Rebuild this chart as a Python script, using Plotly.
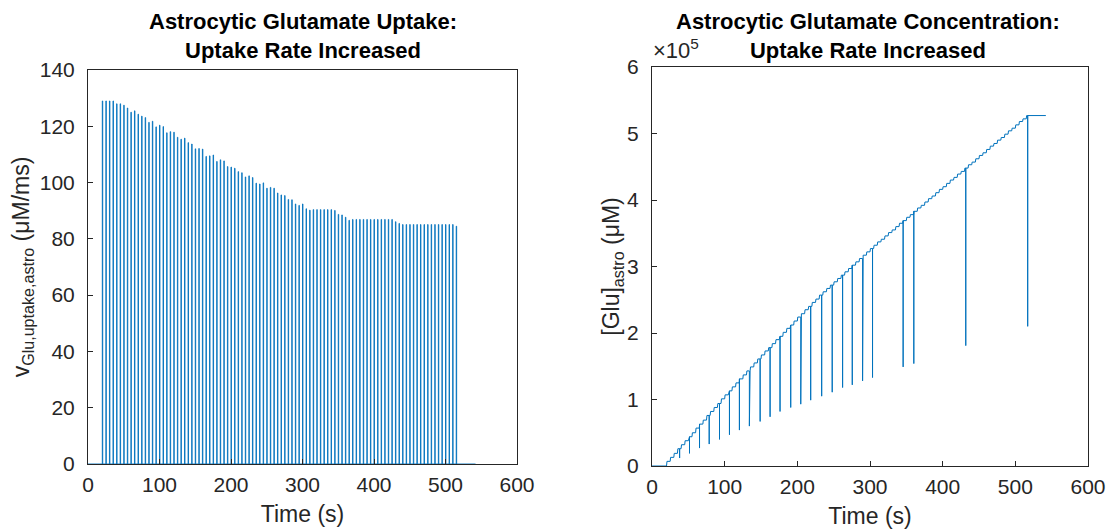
import plotly.graph_objects as go

# ---------------- data ----------------
spike_t = list(range(20, 520, 5))          # pulse onset times (s)
pulse_w = 0.6                              # pulse width (s)
t_end = 542                                # end of simulation (s)

uptake_peak = [
    129, 129, 129, 129,
    128, 128, 127.5, 126.5, 125, 125.5, 124.3, 123.6, 123.1, 121.4, 121.8,
    119.8, 120.4, 119.9, 117.7, 118.1, 117.9, 116.1, 115.4, 115.8, 114.2,
    113.7, 112.0, 112.1, 111.9, 109.3, 109.5, 109.8, 107.5, 108.1, 107.7,
    105.7, 105.5, 105.1, 103.9, 103.5, 102.0, 102.4, 101.8, 99.8, 99.5,
    99.9, 98.0, 98.3, 98.0, 96.3, 95.6, 95.4, 94.0, 93.9, 92.4, 91.9, 92.4,
    90.7, 90.2,
    90.4, 90.4, 90.4, 90.4, 90.4, 90.4,
    90.1, 88.7, 88.5, 87.7, 86.6,
    86.9, 86.9, 86.9, 86.9, 86.9, 86.9, 86.9, 86.9, 86.9, 86.9, 86.9, 86.9,
    86.1, 85.5,
    85.1, 85.1, 85.1, 85.1, 85.1, 85.1, 85.1, 85.1, 85.1, 85.1, 85.1, 85.1,
    85.1, 85.1, 85.1,
    84.5,
]

# astrocytic [Glu] after each pulse (units of 1e5 uM)
glu_level = [
    0.07, 0.13, 0.19, 0.26, 0.32, 0.38, 0.44, 0.50, 0.57, 0.63,
    0.69, 0.76, 0.82, 0.88, 0.94, 1.01, 1.07, 1.13, 1.19, 1.25,
    1.31, 1.37, 1.43, 1.49, 1.55, 1.61, 1.67, 1.73, 1.78, 1.84,
    1.90, 1.95, 2.01, 2.07, 2.12, 2.18, 2.24, 2.29, 2.35, 2.40,
    2.46, 2.51, 2.57, 2.62, 2.67, 2.72, 2.77, 2.82, 2.87, 2.92,
    2.97, 3.02, 3.07, 3.12, 3.17, 3.22, 3.27, 3.32, 3.37, 3.41,
    3.46, 3.51, 3.55, 3.60, 3.65, 3.69, 3.74, 3.78, 3.83, 3.88,
    3.92, 3.97, 4.02, 4.06, 4.11, 4.16, 4.20, 4.25, 4.30, 4.34,
    4.39, 4.43, 4.48, 4.53, 4.57, 4.62, 4.67, 4.71, 4.76, 4.81,
    4.85, 4.90, 4.94, 4.99, 5.04, 5.08, 5.13, 5.18, 5.22, 5.27,
]

dip_t = [38, 51.6, 65.4, 78.7, 92.9, 106.6, 120.3, 134, 148.8, 162.5,
         176.2, 190.9, 204.7, 218.4, 233.5, 248, 262.3, 275.6, 289.8, 303.5,
         345.6, 360.3, 431.8, 517]
dip_low = [0.12, 0.19, 0.27, 0.33, 0.40, 0.47, 0.54, 0.60, 0.67, 0.74,
           0.82, 0.88, 0.93, 0.99, 1.05, 1.11, 1.18, 1.22, 1.28, 1.33,
           1.49, 1.54, 1.81, 2.10]

x_ticks = [0, 100, 200, 300, 400, 500, 600]
left_yticks = [0, 20, 40, 60, 80, 100, 120, 140]
right_yticks = [0, 1, 2, 3, 4, 5, 6]
SCALE = 1e5

# ---------------- build traces ----------------
ux, uy = [0], [0]
for t, p in zip(spike_t, uptake_peak):
    ux += [t, t, t + pulse_w, t + pulse_w]
    uy += [0, p, p, 0]
ux.append(t_end)
uy.append(0)

events = [(t, 's', v) for t, v in zip(spike_t, glu_level)] + \
         [(t, 'd', v) for t, v in zip(dip_t, dip_low)]
events.sort(key=lambda e: e[0])
gx, gy = [0, spike_t[0]], [0, 0]
cur = 0
for t, kind, v in events:
    if kind == 's':
        gx += [t, t + pulse_w]
        gy += [cur * SCALE, v * SCALE]
        cur = v
    else:
        gx += [t, t, t]
        gy += [cur * SCALE, v * SCALE, cur * SCALE]
gx.append(t_end)
gy.append(cur * SCALE)

BLUE = '#0072BD'
AX = '#262626'
FONT = 'Liberation Sans, Arial, sans-serif'

fig = go.Figure()
fig.add_trace(go.Scatter(x=ux, y=uy, mode='lines', line=dict(color=BLUE, width=0.9),
                         xaxis='x', yaxis='y', showlegend=False, hoverinfo='skip'))
fig.add_trace(go.Scatter(x=gx, y=gy, mode='lines', line=dict(color=BLUE, width=1),
                         xaxis='x2', yaxis='y2', showlegend=False, hoverinfo='skip'))

W, H = 1117, 529
OFF = 8  # page body margin offset
def px_x(p):
    return (p - OFF) / W
def px_y(p):
    return 1 - (p - OFF) / H

axis_common = dict(showline=True, linecolor=AX, linewidth=1, mirror=True,
                   ticks='inside', ticklen=5, tickcolor=AX, showgrid=False,
                   zeroline=False, automargin=False,
                   tickfont=dict(family=FONT, size=21, color=AX))
TFONT = dict(size=23, family=FONT, color=AX)

fig.update_layout(
    width=W, height=H, margin=dict(l=0, r=0, t=0, b=0),
    paper_bgcolor='white', plot_bgcolor='white',
    font=dict(family=FONT, color=AX),
    xaxis=dict(domain=[px_x(88), px_x(517)], range=[0, 600], tickvals=x_ticks,
               title=dict(text='Time (s)', font=TFONT, standoff=10),
               ticklabelstandoff=2, anchor='y', **axis_common),
    yaxis=dict(domain=[px_y(464), px_y(70)], range=[0, 140], tickvals=left_yticks,
               title=dict(text='v<sub>Glu,uptake,astro</sub> (μM/ms)', font=TFONT, standoff=3),
               ticklabelstandoff=8, anchor='x', **axis_common),
    xaxis2=dict(domain=[px_x(652), px_x(1088)], range=[0, 600], tickvals=x_ticks,
                title=dict(text='Time (s)', font=TFONT, standoff=10),
                ticklabelstandoff=2, anchor='y2', **axis_common),
    yaxis2=dict(domain=[px_y(466), px_y(67)], range=[0, 6 * SCALE],
                tickvals=[v * SCALE for v in right_yticks],
                ticktext=[str(v) for v in right_yticks],
                title=dict(text='[Glu]<sub>astro</sub> (μM)', font=TFONT, standoff=0),
                ticklabelstandoff=8, anchor='x2', **axis_common),
    annotations=[
        dict(text='<b>Astrocytic Glutamate Uptake:<br>Uptake Rate Increased</b>',
             x=px_x(303), y=px_y(8), xref='paper', yref='paper',
             xanchor='center', yanchor='top', showarrow=False, borderpad=0,
             font=dict(size=22, family=FONT, color='black')),
        dict(text='<b>Astrocytic Glutamate Concentration:<br>Uptake Rate Increased</b>',
             x=px_x(868), y=px_y(8), xref='paper', yref='paper',
             xanchor='center', yanchor='top', showarrow=False, borderpad=0,
             font=dict(size=22, family=FONT, color='black')),
        dict(text='×10<sup>5</sup>', x=px_x(651), y=px_y(65), xref='paper', yref='paper',
             xanchor='left', yanchor='bottom', showarrow=False,
             font=dict(size=22, family=FONT, color=AX)),
    ],
)

fig.write_html('out.html')
